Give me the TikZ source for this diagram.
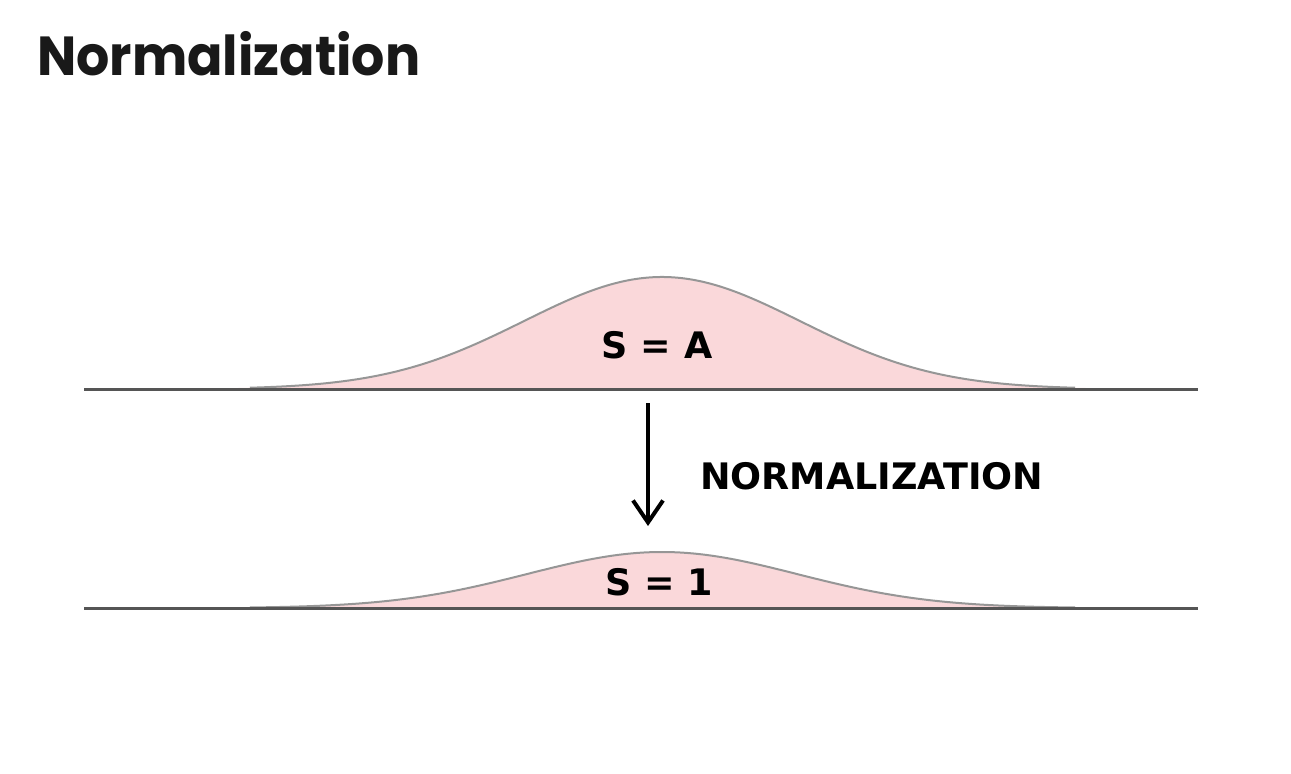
\documentclass[tikz,border=0pt]{standalone}
\usepackage{fontspec}
\usetikzlibrary{arrows.meta}
\newfontfamily\titlefont{Poppins}
\newfontfamily\lblfont{DejaVu Sans}
\definecolor{bellfill}{RGB}{250,216,218}
\definecolor{bellline}{RGB}{150,150,150}
\definecolor{axisline}{RGB}{85,85,85}
\tikzset{
  axis/.style={draw=axisline, line width=3pt},
  bell/.style={fill=bellfill},
  bellrim/.style={draw=bellline, line width=2pt},
  lbl/.style={font=\lblfont\bfseries\fontsize{36.5}{42}\selectfont, text=black, inner sep=0pt},
  ttl/.style={font=\titlefont\bfseries\fontsize{55}{62}\selectfont, text=black!90, inner sep=0pt, anchor=base west, xscale=0.95},
  normarrow/.style={draw=black, line width=4pt, -{Straight Barb[length=22pt, width=30pt, line width=4pt]}}
}
\begin{document}
\begin{tikzpicture}[x=1pt, y=-1pt]
\useasboundingbox (0,0) rectangle (1291,774);
% title
\node[ttl] (title) at (37,75) {Normalization};
% top bell
\fill[bell] (84,389) -- plot[domain=84:1198, samples=220] (\x, {389-112*exp(-0.5*((\x-662)/138)^2)}) -- (1198,389) -- cycle;
\draw[bellrim] plot[domain=250:1075, samples=200] (\x, {389-112*exp(-0.5*((\x-662)/138)^2)});
\coordinate (tl) at (84,389);
\coordinate (tr) at (1198,389);
\draw[axis] (tl) -- (tr);
\node[lbl] (sa) at (657,345) {S = A};
% bottom bell
\fill[bell] (84,608) -- plot[domain=84:1198, samples=220] (\x, {608-56*exp(-0.5*((\x-662)/135)^2)}) -- (1198,608) -- cycle;
\draw[bellrim] plot[domain=250:1075, samples=200] (\x, {608-56*exp(-0.5*((\x-662)/135)^2)});
\coordinate (bl) at (84,608);
\coordinate (br) at (1198,608);
\draw[axis] (bl) -- (br);
\node[lbl] (s1) at (659,582) {S = 1};
% arrow
\coordinate (a1) at (648,403);
\coordinate (a2) at (648,526);
\draw[normarrow] (a1) -- (a2);
\node[lbl, anchor=west] (norm) at (700,476) {NORMALIZATION};
\end{tikzpicture}
\end{document}
